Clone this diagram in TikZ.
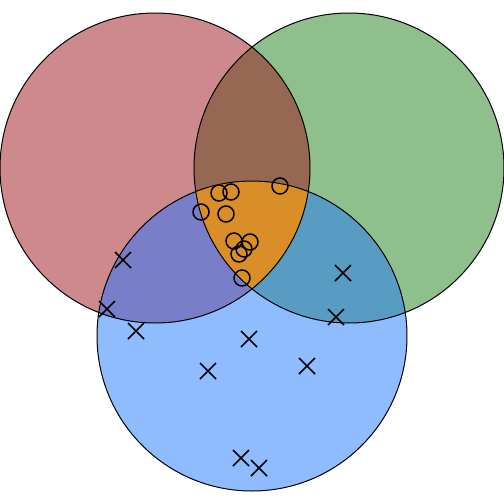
\documentclass[tikz,border=0pt]{standalone}
\begin{document}
\begin{tikzpicture}[x=0.5pt,y=-0.5pt,
  ring/.style={draw=black,line width=0.5pt},
  omark/.style={draw=black,line width=0.75pt},
  xmark/.style={draw=black,line width=0.75pt}]
\definecolor{cR}{RGB}{206,137,141}
\definecolor{cG}{RGB}{143,191,141}
\definecolor{cB}{RGB}{143,188,255}
\definecolor{cRG}{RGB}{150,103,82}
\definecolor{cRB}{RGB}{120,127,200}
\definecolor{cGB}{RGB}{88,156,196}
\definecolor{cRGB}{RGB}{218,142,40}
\useasboundingbox (0,0) rectangle (504,504);
\coordinate (R) at (155,168);
\coordinate (G) at (349,168);
\coordinate (B) at (252,336);
\def\rr{155}
\fill[cR] (R) circle (\rr);
\fill[cG] (G) circle (\rr);
\fill[cB] (B) circle (\rr);
\begin{scope}\clip (R) circle (\rr); \fill[cRG] (G) circle (\rr); \end{scope}
\begin{scope}\clip (R) circle (\rr); \fill[cRB] (B) circle (\rr); \end{scope}
\begin{scope}\clip (G) circle (\rr); \fill[cGB] (B) circle (\rr); \end{scope}
\begin{scope}\clip (R) circle (\rr); \clip (G) circle (\rr); \fill[cRGB] (B) circle (\rr); \end{scope}
\draw[ring] (R) circle (\rr);
\draw[ring] (G) circle (\rr);
\draw[ring] (B) circle (\rr);
\foreach \p in {(219,193),(231,192),(280,186),(201,212),(226,214),(234,241),(250,242),(244,249),(239,254),(242,278)}
  \draw[omark] \p circle (8);
\foreach \a/\b in {123/260,107/309,136/331,249/339,208/371,241/458,259/468,343/273,336/317,307/366}
  \draw[xmark] (\a-8,\b-8) -- (\a+8,\b+8) (\a-8,\b+8) -- (\a+8,\b-8);
\end{tikzpicture}
\end{document}
